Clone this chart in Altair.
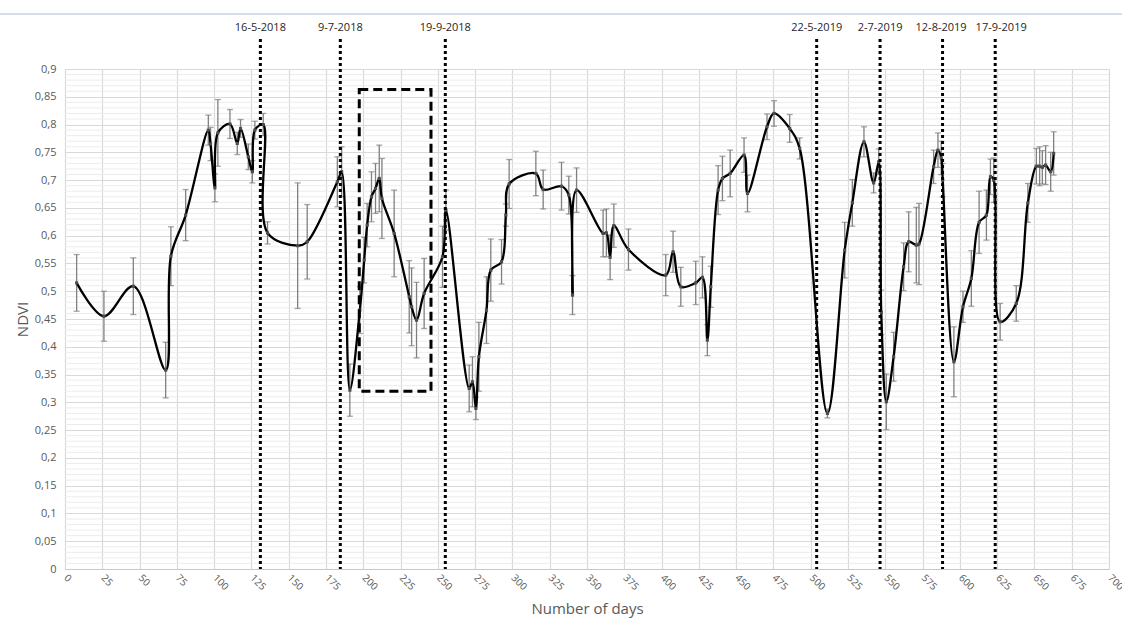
import altair as alt
import pandas as pd

# ---- series (days since start, mean NDVI, +/- error) ----
days = [7.8, 26.1, 45.8, 67.5, 71.0, 80.9, 96.1, 97.6, 100.5, 102.5,
        110.6, 115.5, 117.7, 122.9, 125.6, 127.3, 132.9, 135.8, 156.0, 162.4,
        182.6, 185.5, 191.0, 197.7, 200.6, 202.6, 205.5, 208.2, 210.7, 212.5,
        220.7, 230.8, 232.4, 235.7, 240.8, 253.1, 255.4, 271.0, 273.2, 275.5,
        277.5, 282.6, 285.5, 292.7, 295.6, 297.8, 315.7, 320.6, 332.9, 337.8,
        340.3, 343.0, 360.8, 363.0, 365.5, 368.0, 377.8, 402.8, 407.7, 412.9,
        422.9, 427.4, 430.7, 433.0, 437.9, 440.8, 446.0, 455.3, 457.6, 470.7,
        475.4, 485.9, 492.6, 511.2, 522.8, 527.9, 535.7, 542.2, 545.6, 547.3,
        550.7, 555.6, 562.3, 565.7, 570.8, 572.6, 582.4, 585.3, 587.5, 588.5,
        596.0, 602.1, 607.7, 612.9, 617.8, 620.5, 622.7, 627.0, 637.8, 645.6,
        651.3, 653.5, 655.3, 657.5, 660.9, 662.9]
ndvi = [0.515, 0.455, 0.509, 0.358, 0.563, 0.637, 0.790, 0.765, 0.686, 0.785,
        0.801, 0.766, 0.793, 0.742, 0.715, 0.790, 0.800, 0.605, 0.582, 0.589,
        0.697, 0.715, 0.322, 0.466, 0.556, 0.619, 0.670, 0.685, 0.703, 0.667,
        0.604, 0.490, 0.472, 0.448, 0.496, 0.562, 0.646, 0.325, 0.337, 0.289,
        0.382, 0.466, 0.538, 0.553, 0.637, 0.693, 0.712, 0.683, 0.689, 0.673,
        0.493, 0.682, 0.604, 0.605, 0.561, 0.618, 0.575, 0.529, 0.571, 0.508,
        0.515, 0.525, 0.412, 0.508, 0.682, 0.703, 0.712, 0.745, 0.676, 0.796,
        0.820, 0.793, 0.757, 0.280, 0.574, 0.659, 0.769, 0.695, 0.733, 0.462,
        0.301, 0.382, 0.544, 0.589, 0.583, 0.585, 0.724, 0.754, 0.740, 0.700,
        0.373, 0.472, 0.523, 0.624, 0.637, 0.706, 0.700, 0.445, 0.478, 0.659,
        0.725, 0.725, 0.723, 0.727, 0.715, 0.748]
err = [0.051, 0.045, 0.051, 0.050, 0.053, 0.046, 0.027, 0.030, 0.025, 0.060,
       0.026, 0.020, 0.016, 0.023, 0.020, 0.016, 0.020, 0.020, 0.113, 0.067,
       0.045, 0.045, 0.047, 0.042, 0.041, 0.039, 0.045, 0.045, 0.060, 0.072,
       0.078, 0.065, 0.070, 0.068, 0.063, 0.055, 0.036, 0.042, 0.045, 0.020,
       0.062, 0.060, 0.056, 0.040, 0.020, 0.044, 0.040, 0.035, 0.043, 0.034,
       0.035, 0.040, 0.042, 0.043, 0.040, 0.039, 0.037, 0.037, 0.037, 0.035,
       0.039, 0.037, 0.028, 0.037, 0.044, 0.040, 0.042, 0.031, 0.033, 0.023,
       0.023, 0.025, 0.019, 0.008, 0.050, 0.042, 0.027, 0.018, 0.023, 0.040,
       0.050, 0.044, 0.043, 0.054, 0.068, 0.073, 0.030, 0.031, 0.030, 0.030,
       0.063, 0.028, 0.050, 0.056, 0.045, 0.032, 0.040, 0.033, 0.032, 0.035,
       0.032, 0.035, 0.030, 0.035, 0.035, 0.039]

# ---- event markers ----
event_days = [131.0, 184.6, 255.0, 504.0, 546.5, 588.4, 623.7]
event_labels = ["16-5-2018", "9-7-2018", "19-9-2018", "22-5-2019",
                "2-7-2019", "12-8-2019", "17-9-2019"]
event_label_shift = [0, 0, 0, 0, 0, -1, 4]
event_top = 0.954
event_label_y = 0.974

# ---- highlighted window (dashed box) ----
box_x = [197.3, 245.4]
box_y = [0.320, 0.863]

# ---- axes ----
x_ticks = list(range(0, 701, 25))
y_major = [round(i * 0.05, 2) for i in range(19)]
y_minor = [round(i * 0.01, 2) for i in range(91) if i % 5 != 0]

series = pd.DataFrame({"day": days, "ndvi": ndvi, "err": err})
series["lo"] = series["ndvi"] - series["err"]
series["hi"] = series["ndvi"] + series["err"]
events = pd.DataFrame({"day": event_days, "label": event_labels,
                       "shift": event_label_shift,
                       "top": [event_top] * len(event_days),
                       "bottom": [0.0] * len(event_days),
                       "ly": [event_label_y] * len(event_days)})
events["lx"] = events["day"] + events["shift"]
box = pd.DataFrame({"x1": [box_x[0]], "x2": [box_x[1]],
                    "y1": [box_y[0]], "y2": [box_y[1]]})
minor = pd.DataFrame({"v": y_minor})

xscale = alt.Scale(domain=[0, 700], nice=False, zero=False)
yscale = alt.Scale(domain=[0, 0.9], nice=False, zero=False)

GRAY = "#595959"
FONT = "Open Sans"

Y_AX = alt.Axis(values=y_major, grid=True, gridColor="#d9d9d9",
                gridWidth=1.2, ticks=False, domain=False,
                labelPadding=9, labelFontSize=11, labelColor=GRAY,
                labelFont=FONT,
                labelExpr="replace(format(datum.value, '~g'), '.', ',')",
                title="NDVI", titleFont=FONT, titleFontSize=15,
                titleFontWeight="normal", titleColor=GRAY,
                titleAngle=-90, titleX=-43, titleY=250,
                titleBaseline="middle", titleAlign="center")
X_AX = alt.Axis(values=x_ticks, grid=True, gridColor="#d9d9d9",
                gridWidth=1.2, ticks=False, domain=True,
                domainColor="#c8c8c8", domainWidth=1.2,
                labelAngle=45, labelAlign="left",
                labelBaseline="middle", labelPadding=7,
                labelFontSize=10, labelColor=GRAY, labelFont=FONT,
                format="d",
                title="Number of days", titleFont=FONT,
                titleFontSize=15, titleFontWeight="normal",
                titleColor=GRAY, titleY=44, titleX=522,
                titleBaseline="alphabetic", titleAlign="center")


def X(field):
    return alt.X(field, scale=xscale, axis=X_AX)


def Y(field):
    return alt.Y(field, scale=yscale, axis=Y_AX)


minor_grid = alt.Chart(minor).mark_rule(color="#ececec", strokeWidth=1).encode(
    y=Y("v:Q"), x=alt.value(0), x2=alt.value(1044))

bars = alt.Chart(series).mark_rule(color="#808080", strokeWidth=1.3).encode(
    x=X("day:Q"), y=Y("lo:Q"), y2="hi:Q")
cap_lo = alt.Chart(series).mark_tick(color="#808080", orient="horizontal",
                                     size=6, thickness=1.3).encode(
    x=X("day:Q"), y=Y("lo:Q"))
cap_hi = alt.Chart(series).mark_tick(color="#808080", orient="horizontal",
                                     size=6, thickness=1.3).encode(
    x=X("day:Q"), y=Y("hi:Q"))

line = alt.Chart(series).mark_line(color="black", strokeWidth=2.3,
                                   interpolate="catmull-rom").encode(
    x=X("day:Q"), y=Y("ndvi:Q"))
points = alt.Chart(series).mark_square(size=10, color="#4d4d4d",
                                       opacity=1).encode(
    x=X("day:Q"), y=Y("ndvi:Q"))

event_rules = alt.Chart(events).mark_rule(color="black", strokeWidth=3,
                                          strokeDash=[3, 3]).encode(
    x=X("day:Q"), y=Y("top:Q"), y2="bottom:Q")
event_text = alt.Chart(events).mark_text(fontSize=11, font=FONT,
                                         color="#262626",
                                         baseline="middle").encode(
    x=X("lx:Q"), y=Y("ly:Q"), text="label:N")

box_mark = alt.Chart(box).mark_rect(fill=None, fillOpacity=0, stroke="black",
                                    strokeWidth=3, strokeDash=[9, 5]).encode(
    x=X("x1:Q"), x2="x2:Q", y=Y("y1:Q"), y2="y2:Q")

top_border = alt.Chart(pd.DataFrame({"a": [0]})).mark_rule(
    color="#c9d1e3", strokeWidth=1.5).encode(
    x=alt.value(-65), x2=alt.value(1057), y=alt.value(-55))

chart = alt.layer(
    minor_grid, bars, cap_lo, cap_hi, line, points,
    event_rules, event_text, box_mark, top_border
).properties(
    width=1044, height=500,
    padding={"left": 65, "top": 69, "right": 13, "bottom": 50},
    autosize=alt.AutoSizeParams(type="none"),
    background="white",
).configure_view(stroke=None)

chart.save("out.html", embed_options={"renderer": "svg", "actions": False})
